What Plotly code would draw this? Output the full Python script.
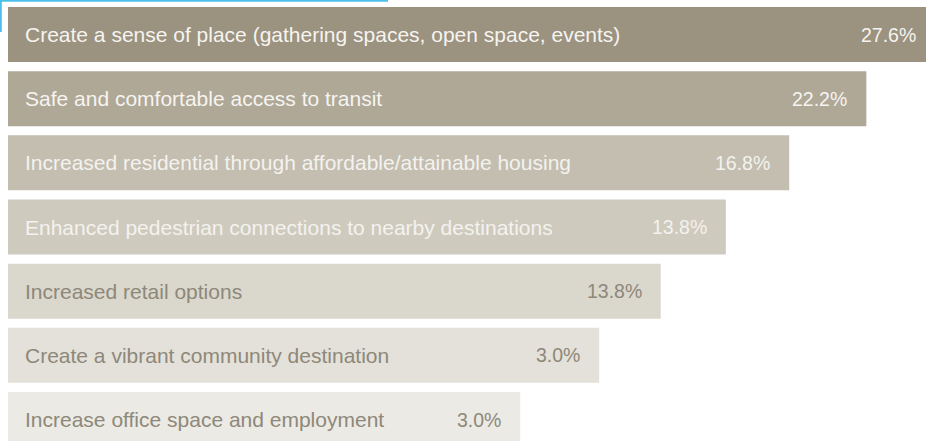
import plotly.graph_objects as go

# Data
categories = [
    "Create a sense of place (gathering spaces, open space, events)",
    "Safe and comfortable access to transit",
    "Increased residential through affordable/attainable housing",
    "Enhanced pedestrian connections to nearby destinations",
    "Increased retail options",
    "Create a vibrant community destination",
    "Increase office space and employment",
]
value_labels = ["27.6%", "22.2%", "16.8%", "13.8%", "13.8%", "3.0%", "3.0%"]
# displayed bar extent (longest = 100)
bar_extent = [101.0, 93.5, 85.1, 78.2, 71.1, 64.4, 55.8]

bar_colors = ["#9b927f", "#afa897", "#c3beb0", "#cecabe", "#dad7cd", "#e3e1d9", "#ebeae4"]
text_colors = ["#f6f4f0", "#f6f4f0", "#f4f2ee", "#f4f2ee", "#8e887a", "#8e887a", "#8e887a"]

FONT = "Liberation Sans, Arial, sans-serif"
FS_LABEL = 21
FS_VALUE = 19.5

fig = go.Figure()
fig.add_trace(go.Bar(
    x=bar_extent,
    y=categories,
    orientation="h",
    marker=dict(color=bar_colors, line=dict(width=0)),
    hoverinfo="skip",
))

annotations = []
for cat, val, ext, tc in zip(categories, value_labels, bar_extent, text_colors):
    annotations.append(dict(
        x=0, y=cat, xref="x", yref="y", text=cat, showarrow=False,
        xanchor="left", yanchor="middle", xshift=15,
        font=dict(family=FONT, size=FS_LABEL, color=tc),
    ))
    annotations.append(dict(
        x=min(ext, 100), y=cat, xref="x", yref="y", text=val, showarrow=False,
        xanchor="right", yanchor="middle", xshift=-17 if ext < 100 else -8,
        font=dict(family=FONT, size=FS_VALUE, color=tc),
    ))

fig.update_layout(
    width=926, height=441,
    margin=dict(l=0, r=0, t=0, b=0),
    paper_bgcolor="white", plot_bgcolor="white",
    showlegend=False,
    bargap=0.143,
    xaxis=dict(range=[-0.87, 100], visible=False, fixedrange=True),
    yaxis=dict(
        categoryorder="array", categoryarray=categories,
        range=[6.335, -0.538], visible=False, fixedrange=True,
    ),
    annotations=annotations,
    shapes=[
        dict(type="line", xref="paper", yref="paper",
             x0=0, x1=388 / 926, y0=1 - 0.8 / 441, y1=1 - 0.8 / 441,
             line=dict(color="#4cc0ea", width=2)),
        dict(type="line", xref="paper", yref="paper",
             x0=0.8 / 926, x1=0.8 / 926, y0=1, y1=1 - 32 / 441,
             line=dict(color="#4cc0ea", width=2)),
    ],
)

fig.write_html(
    "out.html",
    config={"displayModeBar": False},
    post_script="document.body.style.margin='0';document.body.style.padding='0';document.body.style.overflow='hidden';",
)
